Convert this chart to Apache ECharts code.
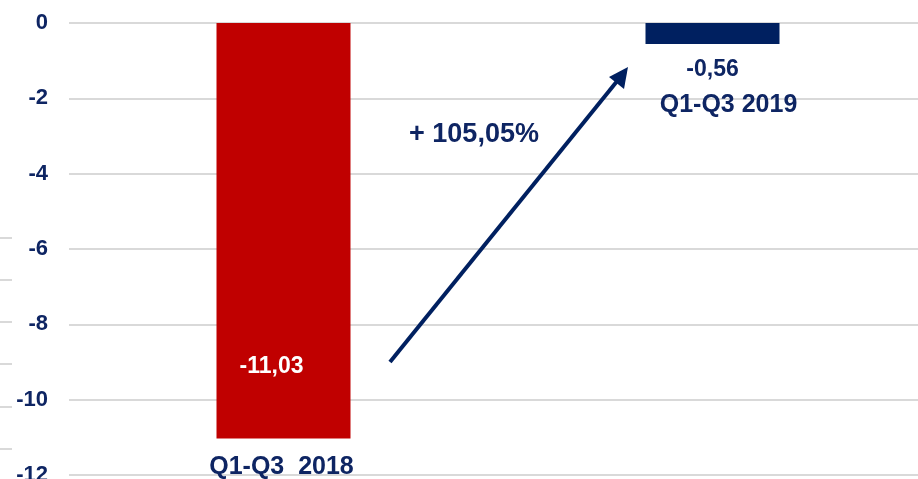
<!DOCTYPE html>
<html><head><meta charset="utf-8">
<script src="https://cdn.jsdelivr.net/npm/echarts@6/dist/echarts.min.js"></script>
<style>html,body{margin:0;padding:0;background:#fff}#c{width:918px;height:479px}</style>
</head><body><div id="c"></div>
<script>
const categories = ['Q1-Q3  2018', 'Q1-Q3 2019'];
const values = [-11.03, -0.56];
const valueLabels = ['-11,03', '-0,56'];
const barColors = ['#C00000', '#002060'];
const yTicks = [0, -2, -4, -6, -8, -10, -12];
const changeLabel = '+ 105,05%';

const NAVY = '#0E2563';
const FONT = '"Liberation Sans", Arial, sans-serif';

const chart = echarts.init(document.getElementById('c'));
const leftTicks = [238, 280, 322, 364, 407, 449].map(y => ({
  type: 'line', shape: {x1: 0, y1: y, x2: 12, y2: y},
  style: {stroke: '#d9d9d9', lineWidth: 2}, silent: true
}));
chart.setOption({
  animation: false,
  grid: {left: 69, top: 23, width: 858, height: 452, containLabel: false, outerBoundsMode: 'none'},
  xAxis: {
    type: 'category', data: categories,
    axisLine: {show: false}, axisTick: {show: false}, axisLabel: {show: false}
  },
  yAxis: {
    type: 'value', min: -12, max: 0, interval: 2,
    axisLine: {show: false}, axisTick: {show: false},
    axisLabel: {color: NAVY, fontFamily: FONT, fontWeight: 'bold', fontSize: 22, margin: 21,
      formatter: v => yTicks.includes(v) ? String(v) : ''},
    splitLine: {lineStyle: {color: '#d9d9d9', width: 2}}
  },
  series: [
    {
      type: 'bar', barWidth: 134, z: 3,
      data: values.map((v, i) => ({
        value: v,
        itemStyle: {color: barColors[i]},
        label: i === 0 ? {
          show: true, position: 'insideBottom', distance: 60, offset: [-12, 0],
          color: '#fff', fontFamily: FONT, fontWeight: 'bold', fontSize: 23,
          formatter: () => valueLabels[i]
        } : {
          show: true, position: 'bottom', distance: 14, offset: [0, 0],
          color: NAVY, fontFamily: FONT, fontWeight: 'bold', fontSize: 23,
          formatter: () => valueLabels[i]
        }
      }))
    },
    {
      type: 'bar', barWidth: 134, barGap: '-100%', z: 2,
      itemStyle: {color: 'transparent'},
      data: values.map((v, i) => ({
        value: v,
        label: {
          show: true, position: 'bottom',
          distance: i === 0 ? 16 : 49, offset: i === 0 ? [-2, 0] : [16, 0],
          color: NAVY, fontFamily: FONT, fontWeight: 'bold', fontSize: 25,
          formatter: () => categories[i]
        }
      }))
    }
  ],
  graphic: leftTicks.concat([
    {
      type: 'line', shape: {x1: 390, y1: 362, x2: 618, y2: 80},
      style: {stroke: '#002060', lineWidth: 4}, z: 10
    },
    {
      type: 'polygon', shape: {points: [[628, 67], [609, 77], [624, 89]]},
      style: {fill: '#002060'}, z: 10
    },
    {
      type: 'text', x: 474, y: 135, z: 10,
      style: {text: changeLabel, fill: NAVY, font: 'bold 27px ' + FONT, align: 'center', verticalAlign: 'middle'}
    }
  ])
});
</script></body></html>
